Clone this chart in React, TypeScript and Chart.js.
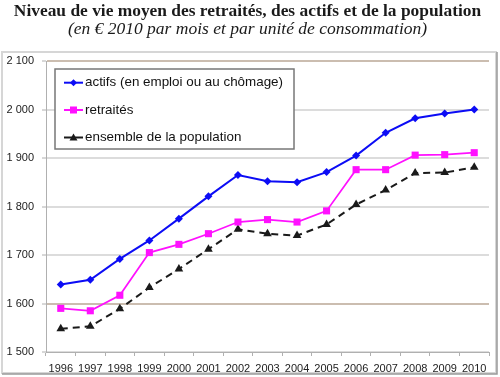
import React, { useEffect, useRef } from "react";
import { Chart, registerables } from "chart.js";

Chart.register(...registerables);

const years = ["1996","1997","1998","1999","2000","2001","2002","2003","2004","2005","2006","2007","2008","2009","2010"];
const actifs = [1639,1649,1692,1730,1775,1821,1865,1852,1850,1871,1905,1952,1982,1992,2000];
const retraites = [1590,1585,1617,1705,1722,1744,1768,1773,1768,1791,1876,1876,1906,1907,1911];
const ensemble = [1548,1553,1589,1633,1671,1712,1753,1744,1740,1763,1804,1834,1869,1870,1881];
const seriesLabels = ["actifs (en emploi ou au chômage)", "retraités", "ensemble de la population"];
const titleText = "Niveau de vie moyen des retraités, des actifs et de la population";
const subtitleText = "(en € 2010 par mois et par unité de consommation)";

const BLUE = "#0c0cf5";
const MAGENTA = "#ff10ff";
const BLACK = "#1a1a1a";

function fmt(v: number) {
  const s = String(v);
  return s.length > 3 ? s.slice(0, s.length - 3) + " " + s.slice(s.length - 3) : s;
}

const framePlugin = {
  id: "frame",
  beforeDraw(chart: any) {
    const ctx = chart.ctx;
    ctx.save();
    ctx.fillStyle = "#ffffff";
    ctx.fillRect(0, 0, chart.width, chart.height);
    ctx.strokeStyle = "#d6d6d6";
    ctx.lineWidth = 2;
    ctx.strokeRect(2, 52, 494, 321);
    ctx.strokeStyle = "#9a9a9a";
    ctx.lineWidth = 1.5;
    ctx.beginPath();
    ctx.moveTo(2, 374);
    ctx.lineTo(497, 374);
    ctx.lineTo(497, 52);
    ctx.stroke();
    ctx.restore();
  },
};

const legendPlugin = {
  id: "customLegend",
  afterDraw(chart: any) {
    const ctx = chart.ctx;
    ctx.save();
    ctx.fillStyle = "#ffffff";
    ctx.fillRect(55, 69, 239, 80);
    ctx.strokeStyle = "#777777";
    ctx.lineWidth = 1.5;
    ctx.strokeRect(55, 69, 239, 80);
    const rows = [82.7, 110, 137.5];
    const colors = [BLUE, MAGENTA, BLACK];
    ctx.font = "13.4px 'Liberation Sans', Arial, sans-serif";
    ctx.textBaseline = "middle";
    rows.forEach((y, i) => {
      ctx.strokeStyle = colors[i];
      ctx.fillStyle = colors[i];
      ctx.lineWidth = 2;
      ctx.beginPath();
      ctx.moveTo(64, y);
      ctx.lineTo(83, y);
      ctx.stroke();
      const cx = 73.5;
      ctx.beginPath();
      if (i === 0) {
        ctx.moveTo(cx, y - 3.5);
        ctx.lineTo(cx + 3.5, y);
        ctx.lineTo(cx, y + 3.5);
        ctx.lineTo(cx - 3.5, y);
        ctx.closePath();
        ctx.fill();
      } else if (i === 1) {
        ctx.fillRect(cx - 3.5, y - 3.5, 7, 7);
      } else {
        ctx.moveTo(cx, y - 4);
        ctx.lineTo(cx + 4, y + 3);
        ctx.lineTo(cx - 4, y + 3);
        ctx.closePath();
        ctx.fill();
      }
      ctx.fillStyle = "#111111";
      ctx.fillText(seriesLabels[i], 85, y);
    });
    ctx.restore();
  },
};

export default function App() {
  const ref = useRef<HTMLCanvasElement | null>(null);
  useEffect(() => {
    if (!ref.current) return;
    const chart = new Chart(ref.current, {
      type: "line",
      data: {
        labels: years,
        datasets: [
          {
            label: seriesLabels[0],
            data: actifs,
            borderColor: BLUE,
            backgroundColor: BLUE,
            borderWidth: 2,
            pointStyle: "rectRot",
            pointRadius: 4,
            pointBorderWidth: 0,
            tension: 0,
          },
          {
            label: seriesLabels[1],
            data: retraites,
            borderColor: MAGENTA,
            backgroundColor: MAGENTA,
            borderWidth: 1.7,
            pointStyle: "rect",
            pointRadius: 5,
            pointBorderWidth: 0,
            tension: 0,
          },
          {
            label: seriesLabels[2],
            data: ensemble,
            borderColor: BLACK,
            backgroundColor: BLACK,
            borderWidth: 2,
            borderDash: [7, 5],
            pointStyle: "triangle",
            pointRadius: 5,
            pointBorderWidth: 0,
            tension: 0,
          },
        ],
      },
      options: {
        animation: false,
        responsive: false,
        layout: { padding: { left: 6, right: 11, top: 0, bottom: 5 } },
        plugins: {
          legend: { display: false },
          tooltip: { enabled: false },
          title: {
            display: true,
            text: titleText,
            color: "#1a1a1a",
            font: { family: "'Liberation Serif', 'Times New Roman', serif", size: 17.4, weight: "bold", lineHeight: 1.1 },
            padding: { top: 2, bottom: 0 },
          },
          subtitle: {
            display: true,
            text: subtitleText,
            color: "#1a1a1a",
            font: { family: "'Liberation Serif', 'Times New Roman', serif", size: 17.5, style: "italic", lineHeight: 1.0 },
            padding: { top: 0, bottom: 22.4 },
          },
        },
        scales: {
          x: {
            offset: true,
            grid: {
              offset: true,
              drawOnChartArea: false,
              drawTicks: true,
              tickLength: 4,
              color: "#b0b0b0",
            },
            border: { color: "#b0b0b0", width: 1 },
            ticks: {
              color: "#222222",
              font: { family: "'Liberation Sans', Arial, sans-serif", size: 11 },
              padding: 6,
              maxRotation: 0,
              autoSkip: false,
            },
            afterFit: (s: any) => {
              s.height = 20;
            },
          },
          y: {
            min: 1500,
            max: 2100,
            grid: {
              color: (c: any) => (c.tick && (c.tick.value === 2100 || c.tick.value === 1600) ? "#cbbdb0" : "#dcdcdc"),
              lineWidth: 2,
              tickLength: 4,
              tickColor: "#b0b0b0",
              tickWidth: 1,
            },
            border: { color: "#b0b0b0", width: 1 },
            ticks: {
              stepSize: 100,
              color: "#222222",
              font: { family: "'Liberation Sans', Arial, sans-serif", size: 11 },
              padding: 8,
              callback: (v: any) => fmt(Number(v)),
            },
            afterFit: (s: any) => {
              s.width = 40;
            },
          },
        },
      },
      plugins: [framePlugin, legendPlugin],
    });
    return () => chart.destroy();
  }, []);
  return (
    <div style={{ position: "fixed", left: 0, top: 0, width: 500, height: 377 }}>
      <canvas ref={ref} width={500} height={377} style={{ width: 500, height: 377 }} />
    </div>
  );
}
